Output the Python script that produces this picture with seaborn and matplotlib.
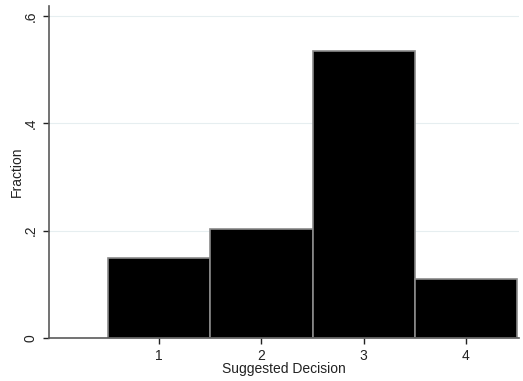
import matplotlib
matplotlib.use("Agg")
import matplotlib.pyplot as plt
import seaborn as sns
import pandas as pd

decisions = [1, 2, 3, 4]
fractions = [0.149, 0.203, 0.534, 0.110]
yticks = [0, 0.2, 0.4, 0.6]
ytick_labels = ["0", ".2", ".4", ".6"]

sns.set_style("white")
plt.rcParams['font.family'] = ['Liberation Sans', 'DejaVu Sans']

df = pd.DataFrame({"decision": decisions, "fraction": fractions})

fig = plt.figure(figsize=(5.23, 3.81), dpi=100)
ax = fig.add_axes([0.0937, 0.1129, 0.8983, 0.8711])

sns.histplot(data=df, x="decision", weights="fraction", discrete=True,
             color="black", alpha=1, edgecolor="#8a8a8a", linewidth=1.2, ax=ax)

ax.set_xlim(-0.08, 4.52)
ax.set_ylim(0, 0.618)
ax.set_yticks(yticks)
ax.set_yticklabels(ytick_labels, rotation=90, va="center")
ax.set_xticks(decisions)
ax.set_xticklabels([str(d) for d in decisions])
for y in yticks[1:]:
    ax.axhline(y, color="#e6eef0", linewidth=0.8, zorder=0)
ax.set_axisbelow(True)

ax.set_xlabel("Suggested Decision", fontsize=10, color="#222222", labelpad=-1)
ax.set_ylabel("Fraction", fontsize=10, color="#222222", labelpad=0)
ax.tick_params(axis="both", labelsize=10, colors="#222222", length=4, width=1,
               direction="out", bottom=True, left=True)
ax.tick_params(axis="x", pad=4)
ax.tick_params(axis="y", pad=4)

for s in ["top", "right"]:
    ax.spines[s].set_visible(False)
for s in ["left", "bottom"]:
    ax.spines[s].set_color("#5a5a5a")
    ax.spines[s].set_linewidth(1.2)

fig.savefig("out.png", dpi=100)
